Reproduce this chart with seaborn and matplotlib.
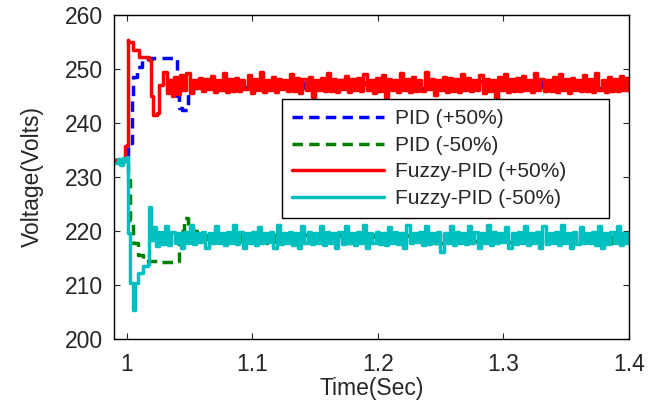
import matplotlib
matplotlib.use("Agg")
import matplotlib.pyplot as plt
import numpy as np
import seaborn as sns

# values (time in s, voltage in V)

# PID (+50%) - transient then steady part
pid_p_t = [0.99, 1.0, 1.0008, 1.004, 1.0048, 1.008, 1.012, 1.02, 1.03, 1.038,
           1.040, 1.042, 1.044, 1.049, 1.053]
pid_p_v = [233.2, 233.2, 236.3, 244.8, 248.5, 250.4, 251.8, 252.0, 252.0, 252.0,
           245.0, 242.8, 242.4, 245.0, 246.4]
pid_p_ss = [247.6, 246.6, 247.8, 246.4, 247.5, 246.7, 247.9, 246.5, 247.6, 246.6,
            247.7, 246.4, 247.8, 246.6, 247.5, 246.5, 247.9, 246.7, 247.6, 246.4,
            247.7, 246.6, 247.5, 246.5, 247.8, 246.4, 247.6, 246.7, 247.9, 246.5,
            247.6, 246.6, 247.7, 246.4, 247.5, 246.6, 247.8, 246.5, 247.6, 246.7,
            247.7, 246.4, 247.9, 246.6, 247.5, 246.5, 247.8, 246.6, 247.6, 246.5]

# PID (-50%)
pid_m_t = [0.99, 1.0, 1.0008, 1.0024, 1.0048, 1.009, 1.013, 1.025, 1.040, 1.042,
           1.046, 1.049, 1.053]
pid_m_v = [233.2, 233.2, 229.4, 222.0, 217.8, 215.6, 214.5, 214.3, 214.4, 220.0,
           222.4, 220.7, 220.0]
pid_m_ss = [219.3, 218.0, 219.5, 217.9, 219.2, 218.1, 219.4, 217.8, 219.3, 218.0,
            219.5, 218.1, 219.2, 217.9, 219.4, 218.0, 219.3, 217.8, 219.5, 218.1,
            219.2, 218.0, 219.4, 217.9, 219.3, 218.1, 219.5, 217.8, 219.2, 218.0,
            219.4, 218.1, 219.3, 217.9, 219.5, 218.0, 219.2, 217.8, 219.4, 218.1,
            219.3, 218.0, 219.5, 217.9, 219.2, 218.1, 219.4, 217.8, 219.3, 218.0]

# Fuzzy-PID (+50%)
fz_p_t = [0.99, 0.9985, 0.999, 1.0, 1.0008, 1.0015, 1.005, 1.01, 1.018, 1.0195,
          1.021, 1.024, 1.026, 1.029, 1.032, 1.034, 1.036]
fz_p_v = [233.2, 233.2, 235.8, 236.0, 255.4, 255.0, 253.5, 252.2, 251.7, 245.0,
          241.5, 241.8, 247.0, 249.5, 245.5, 248.0, 245.0]
fz_p_ss = [248.6, 245.4, 248.9, 246.2, 249.3, 245.6, 248.0, 246.4, 248.4, 245.9,
           248.1, 246.3, 248.7, 245.8, 247.9, 246.1, 249.2, 245.7, 248.2, 246.0,
           248.3, 245.9, 248.0, 246.3, 248.8, 245.5, 248.1, 246.2, 249.4, 245.8,
           248.0, 246.1, 248.5, 245.7, 248.2, 246.3, 247.9, 245.9, 249.0, 246.0,
           248.3, 245.6, 248.1, 246.2, 248.6, 244.8, 248.0, 246.1, 248.4, 245.9,
           249.3, 246.0, 248.2, 245.7, 248.0, 246.3, 248.7, 245.8, 248.1, 246.1,
           248.4, 245.9, 249.1, 246.2, 248.0, 245.6, 248.3, 246.0, 248.8, 244.9,
           248.2, 246.1, 248.0, 245.8, 249.2, 246.2, 248.1, 245.7, 248.5, 246.0,
           248.0, 245.9, 249.5, 246.3, 248.2, 245.2, 248.0, 246.1, 248.6, 245.8,
           248.3, 246.0, 248.1, 245.7, 249.0, 246.2, 248.4, 245.9, 248.0, 246.1,
           248.9, 245.6, 248.2, 246.0, 248.0, 244.7, 248.5, 246.2, 249.1, 245.8,
           248.1, 246.0, 248.3, 245.9, 248.7, 246.1, 248.0, 245.7, 249.3, 246.2,
           248.2, 245.9, 248.0, 246.0, 248.6, 245.8, 249.0, 246.1, 248.1, 245.6,
           248.4, 246.2, 248.0, 245.9, 248.8, 246.0, 248.2, 245.7, 249.2, 246.1,
           248.0, 245.8, 248.5, 246.0, 248.1, 245.9, 248.7, 246.2, 248.3, 245.9]

# Fuzzy-PID (-50%)
fz_m_t = [0.99, 0.993, 0.995, 0.997, 0.999, 1.0, 1.0008, 1.0024, 1.0048, 1.0064,
          1.009, 1.013, 1.017, 1.018, 1.0195]
fz_m_v = [232.6, 233.4, 232.3, 233.6, 233.0, 233.7, 219.6, 210.4, 205.4, 210.4,
          212.3, 213.5, 213.8, 224.5, 218.3]
fz_m_ss = [220.8, 217.2, 219.9, 217.6, 221.0, 217.5, 219.8, 217.8, 219.6, 216.9,
           219.8, 217.7, 221.1, 217.6, 219.7, 217.9, 219.9, 216.8, 219.6, 217.7,
           220.9, 217.8, 219.7, 217.5, 219.9, 217.7, 221.2, 217.6, 219.8, 216.9,
           219.6, 217.8, 219.9, 217.5, 220.8, 217.7, 219.7, 217.9, 219.8, 216.8,
           221.1, 217.6, 219.6, 217.8, 219.9, 217.5, 219.7, 216.9, 220.9, 217.7,
           219.8, 217.6, 219.7, 217.8, 221.0, 217.5, 219.9, 217.7, 219.6, 216.8,
           219.8, 217.6, 220.9, 217.8, 219.7, 217.5, 219.9, 217.7, 221.1, 216.9,
           219.6, 217.8, 219.8, 217.6, 219.7, 217.4, 220.8, 217.7, 219.9, 217.6,
           219.7, 216.8, 221.2, 217.7, 219.6, 217.9, 219.8, 217.5, 220.9, 217.6,
           219.7, 217.8, 219.9, 216.2, 219.6, 217.7, 221.0, 217.5, 219.8, 217.8,
           219.7, 217.6, 220.9, 217.7, 219.9, 216.8, 219.6, 217.8, 221.1, 217.5,
           219.8, 217.7, 219.6, 217.9, 220.8, 216.9, 219.7, 217.6, 219.9, 217.8,
           221.0, 217.5, 219.7, 217.7, 219.8, 216.8, 220.9, 217.6, 219.6, 217.8,
           219.9, 217.5, 221.1, 217.7, 219.7, 216.9, 219.8, 217.6, 220.8, 217.7,
           219.6, 217.8, 219.9, 217.5, 221.0, 216.8, 219.7, 217.6, 219.8, 217.7,
           220.9, 217.5, 219.6, 217.8, 219.9]

labels = ["PID (+50%)", "PID (-50%)", "Fuzzy-PID (+50%)", "Fuzzy-PID (-50%)"]
colors = ["#0000ff", "#008000", "#ff0000", "#00bfbf"]
styles = ["--", "--", "-", "-"]

# steady part starts where the transient ends, runs to 1.4 s
series = [
    (pid_p_t, pid_p_v, pid_p_ss, 1.056),
    (pid_m_t, pid_m_v, pid_m_ss, 1.056),
    (fz_p_t, fz_p_v, fz_p_ss, 1.038),
    (fz_m_t, fz_m_v, fz_m_ss, 1.021),
]

sns.set_style("ticks")
plt.rcParams["font.family"] = ["Liberation Sans", "DejaVu Sans"]

fig = plt.figure(figsize=(6.5, 4.04), dpi=100)
ax = fig.add_axes([114 / 650, 1 - 339 / 404, 515 / 650, 324 / 404])

for (t, v, ss, t0), lab, c, ls in zip(series, labels, colors, styles):
    tt = list(t) + list(np.linspace(t0, 1.4, len(ss)))
    vv = list(v) + list(ss)
    # simulink output is a staircase signal
    sns.lineplot(x=tt, y=vv, ax=ax, estimator=None, sort=False, label=lab,
                 color=c, linewidth=2.5, linestyle=ls, drawstyle="steps-post")

for ln in ax.get_lines()[:2]:
    ln.set_dashes((3.0, 1.8))

ax.set_xlim(0.99, 1.4)
ax.set_ylim(200, 260)
ax.set_xticks([1.0, 1.1, 1.2, 1.3, 1.4])
ax.set_xticklabels(["1", "1.1", "1.2", "1.3", "1.4"])
ax.set_yticks(range(200, 261, 10))
ax.tick_params(direction="in", top=True, right=True, length=4, width=0.8,
               labelsize=16.5, pad=8)
ax.tick_params(axis="x", pad=10)
for s in ax.spines.values():
    s.set_linewidth(1.0)
    s.set_color("black")

ax.set_xlabel("Time(Sec)", fontsize=16.5, labelpad=0.5)
ax.set_ylabel("Voltage(Volts)", fontsize=16.5, labelpad=15)

leg = ax.legend(loc="upper left", bbox_to_anchor=(0.326, 0.3, 0.635, 0.441),
                mode="expand", fontsize=15, handlelength=4.4,
                handletextpad=0.55, labelspacing=0.36, borderpad=0.5,
                frameon=True, fancybox=False, framealpha=1,
                edgecolor="black", borderaxespad=0)
leg.get_frame().set_linewidth(1.0)

fig.savefig("out.png", dpi=100)
